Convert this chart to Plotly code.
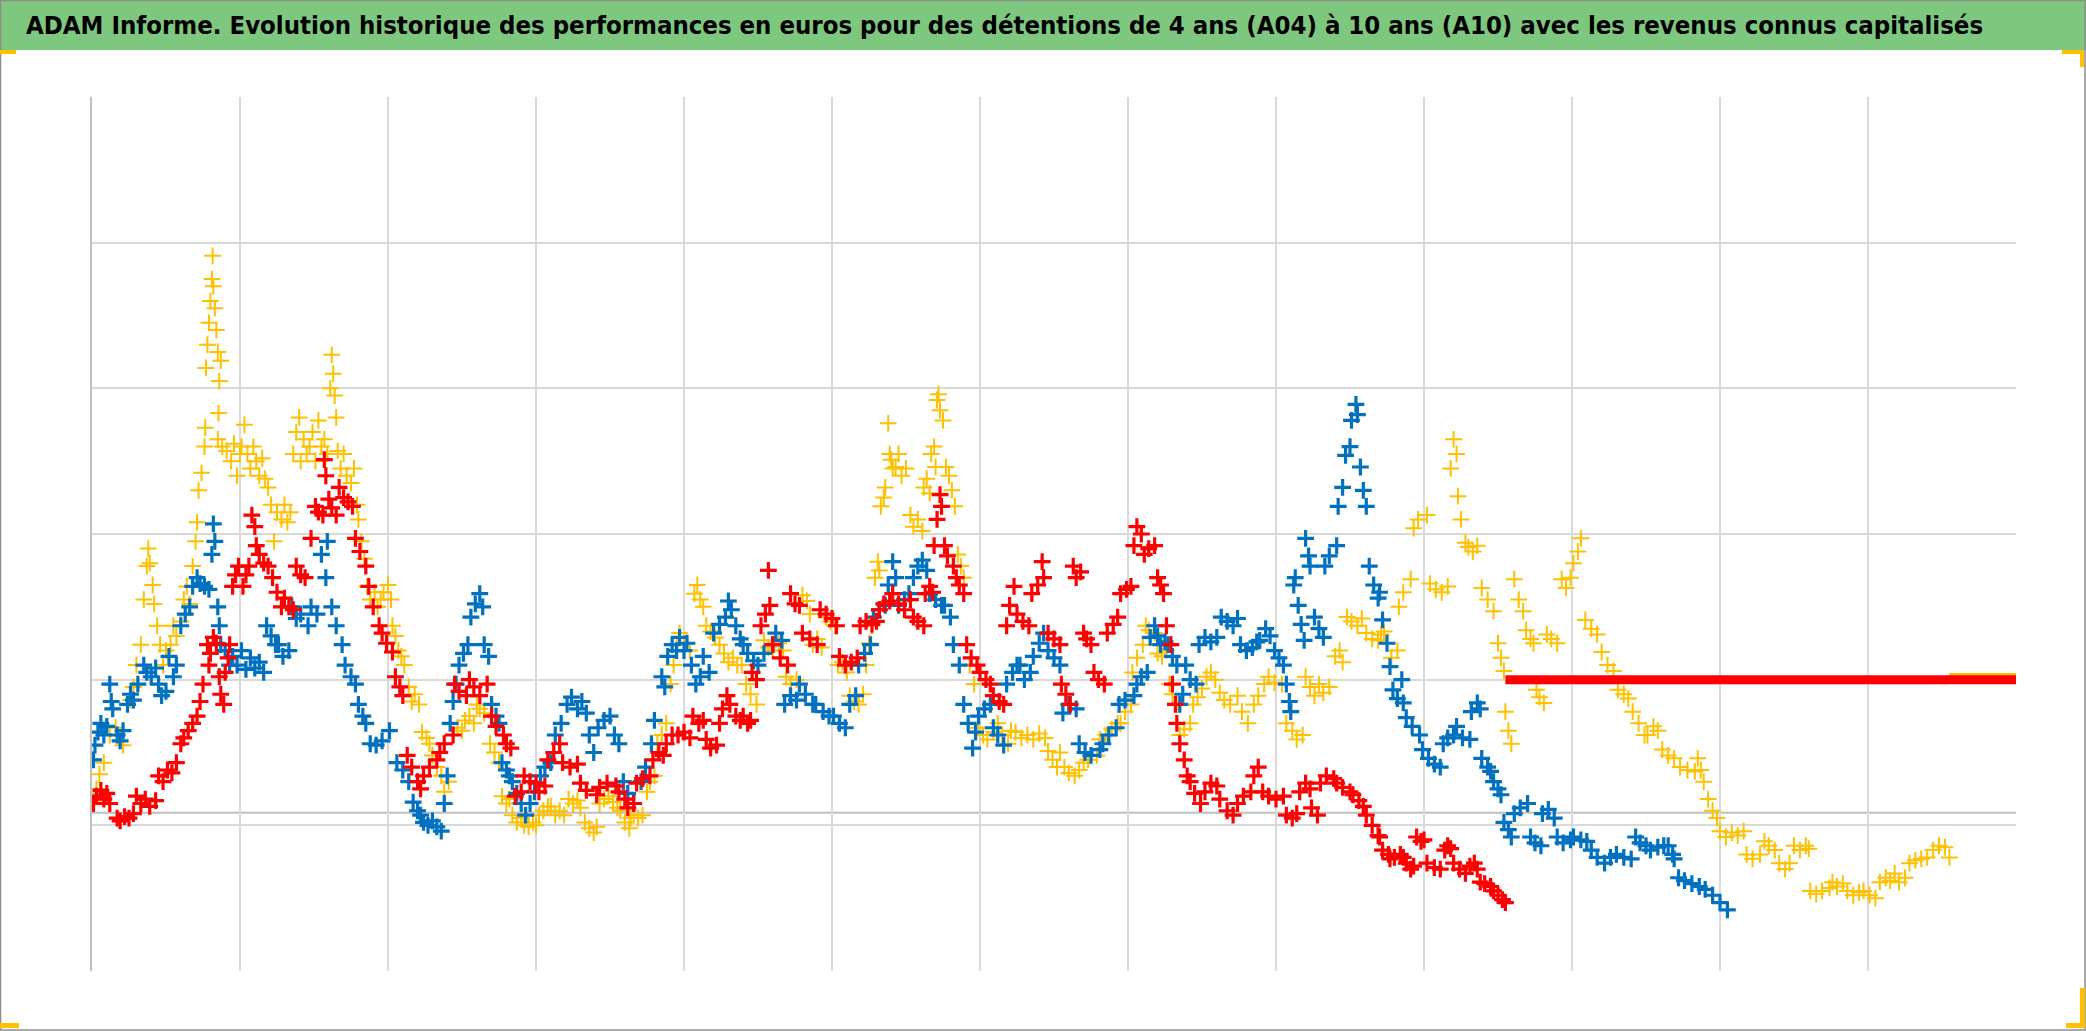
import plotly.graph_objects as go

TITLE = ("ADAM Informe. Evolution historique des performances en euros pour des "
         "détentions de 4 ans (A04) à 10 ans (A10) avec les revenus connus capitalisés")

# ---------------- data (x: time in grid units, y: performance in grid units) ----------
yellow_x = [0.01,0.03,0.05,0.08, 0.12,0.16,0.19,0.21, 0.26,0.28,0.30,0.33,
            0.35,0.37,0.38,0.39,0.41,0.42, 0.44,0.46,0.48,0.50, 0.53,0.55,0.57,
            0.60,0.62,0.64,0.66, 0.68,0.70,0.71, 0.72,0.74,0.76,0.765,
            0.77,0.78,0.79,0.80,0.81,0.815,0.82,0.83,0.84,0.85,0.86,0.855,0.87,
            0.85,0.88,0.91,0.94,0.96,0.98,1.00,
            1.01,1.03,1.05,1.07,1.09,1.11,1.13,1.15,1.17,1.19,
            1.21,1.23,1.25,1.28,1.30,1.32,1.34, 1.36,1.38,1.40,1.41,1.43,1.45,
            1.47,1.49,1.51,1.53,1.55,1.57,1.59, 1.61,1.62,1.63,1.64,1.65,
            1.66,1.68,1.70,1.72,1.75,1.77,1.79, 1.80,1.82,1.84,
            1.86,1.88,1.91,1.93,1.95,1.97,2.00,2.02, 2.03,2.05,2.07,2.09,
            2.11,2.14,2.16,2.18,2.21,
            2.23,2.26,2.28, 2.30,2.33,2.36, 2.38,2.41, 2.44,2.47,2.50, 2.52,2.55,2.58,
            2.60,2.62,2.65, 2.69,2.72,2.75, 2.77,2.80,2.82, 2.84,2.87,2.90,
            2.92,2.95,2.98,3.00, 3.02,3.05,3.08, 3.10,3.13,3.16,3.19,
            3.22,3.25,3.28,3.30, 3.33,3.36,3.39,3.41, 3.43,3.46,3.49,3.52,3.55,
            3.57,3.60,3.63,3.64, 3.66,3.69,3.72, 3.75,3.77,3.80, 3.82,3.85,3.88,
            3.91,3.93,3.95, 3.97,4.00,4.04, 4.07,4.09,4.11,4.13, 4.15,4.18,4.21,
            4.24,4.27,4.30,4.33,4.36,
            4.39, 4.42,4.45,4.49, 4.54,4.57,4.60,4.64,4.67, 4.69,4.72,4.76,
            4.78,4.80,4.83,4.85, 4.87,4.90,4.93, 4.96,4.99,5.02, 5.04,5.07,5.10,
            5.12,5.15,5.18,5.21, 5.23,5.25,5.27, 5.29,5.31,5.32, 5.33,5.35,5.36,
            5.38,5.39,5.40,5.41, 5.43,5.45,5.47,5.50, 5.53,5.55,5.58,5.61,
            5.62,5.64,5.66, 5.67,5.69,5.70, 5.71,5.72,5.73,5.75, 5.77,5.79,5.81,5.83,
            5.85,5.87,5.89, 5.91,5.93,5.96, 5.99,6.02,6.05,6.09, 6.12,6.15,6.19,6.21,
            6.24,6.28,6.32,6.36,6.40,6.44, 6.46,6.49,6.52,
            6.54, 6.57,6.60,6.64,6.67, 6.70,6.73,6.79, 6.81,6.85,6.89,6.93,
            6.95,6.98,7.02, 7.03,7.06,7.10, 7.12,7.14,7.18, 7.20,7.23,7.26,
            7.28,7.30,7.33, 7.35,7.38,7.42, 7.44,7.47,7.50, 7.53,7.56,7.59,
            7.62,7.65,7.69, 7.74,7.77,7.81, 7.85,7.88, 7.92,7.95,7.99,8.04,
            8.07,8.11,8.14,8.18, 8.20,8.23,8.26, 8.29,8.32,8.36, 8.40,8.43,8.45,
            8.48,8.51,8.55,8.58, 8.61,8.65,8.69,
            8.71,8.73, 8.75,8.78,8.82, 8.83,8.86,8.91, 8.93,8.96,9.02,
            9.04,9.08,9.12,9.16, 9.18,9.20,9.22, 9.23,9.25,9.28, 9.30,9.33,9.36,
            9.39,9.43,9.47, 9.50,9.52,9.54, 9.55,9.57,9.59, 9.61,9.64,9.67,
            9.69,9.72,9.74, 9.76,9.78,9.81, 9.83,9.86,9.90, 9.93,9.96,9.99,
            10.01,10.04,10.06, 10.09,10.13,10.17, 10.20,10.24,10.28,
            10.31,10.35,10.38, 10.41,10.45,10.49, 10.51,10.55,10.58,
            10.61,10.65,10.69, 10.73,10.78,10.83,
            10.85,10.87,10.89, 10.92,10.95,10.98, 11.00,11.04,11.08,11.12,11.16,
            11.18,11.22,11.27, 11.30,11.33,11.37, 11.40,11.44,11.47,
            11.50,11.54,11.58,11.60, 11.61,11.65,11.69,11.74, 11.76,11.79,11.83,
            11.86,11.90,11.94, 11.97,12.01,12.05, 12.08,12.12,12.15,
            12.18,12.21,12.25, 12.28,12.32,12.36,12.40, 12.44,12.48,12.52,12.55]
yellow_y = [1.17,1.25,1.35,1.43, 1.62,1.67,1.58,1.55, 1.86,1.95,2.10,2.24,
            2.55,2.78,2.90,2.80,2.65,2.52, 2.37,2.24,2.10,2.20, 2.24,2.37,2.30,
            2.40,2.55,2.64,2.52, 2.78,2.95,3.08, 3.30,3.42,3.60,3.73,
            4.14,4.30,4.45,4.60,4.75,4.91,4.70,4.55,4.40,4.25,4.05,3.83,4.19,
            3.65,3.60,3.57,3.50,3.62,3.40,3.55,
            3.60,3.75,3.55,3.45,3.60,3.50,3.40,3.52,3.38,3.32,
            3.20,2.95,3.15,3.10,3.20,3.08,3.15, 3.55,3.70,3.80,3.50,3.65,3.55,
            3.60,3.70,3.50,3.78,3.60,3.65,3.55, 4.00,4.23,4.10,3.95,3.80,
            3.57,3.45,3.55,3.40,3.35,3.45,3.20, 3.10,2.95,2.83,
            2.64,2.55,2.60,2.50,2.55,2.60,2.65,2.55, 2.37,2.30,2.20,2.16,
            2.10,1.95,1.85,1.90,1.83,
            1.64,1.60,1.56, 1.48,1.40,1.34, 1.23,1.30, 1.62,1.67,1.65, 1.72,1.75,1.70,
            1.83,1.80,1.77, 1.56,1.50,1.43, 1.20,1.15,1.18, 1.07,1.02,1.05,
            1.00,0.99,1.02,1.00, 1.07,1.10,1.13, 1.13,1.07,1.10,1.07,
            1.18,1.15,1.17,1.12, 1.02,0.98,0.95,0.99, 1.15,1.18,1.20,1.16,1.12,
            1.10,1.02,0.98,1.05, 1.07,1.05,1.07, 1.23,1.30,1.34, 1.56,1.62,1.70,
            1.97,2.10,2.24, 2.32,2.25,2.20, 2.59,2.65,2.55,2.50, 2.37,2.33,2.29,
            2.24,2.18,2.12,2.15,2.10,
            2.10, 1.97,1.90,1.83, 2.27,2.22,2.20,2.25,2.20, 2.02,1.97,2.00,
            2.51,2.58,2.54,2.45, 2.24,2.28,2.22, 2.43,2.40,2.37, 2.10,2.12,2.05,
            1.89,1.85,1.83,1.90, 2.10,2.25,2.37, 2.70,2.81,2.75, 3.19,3.25,3.32,
            3.76,3.55,3.51,3.45, 3.46,3.55,3.40,3.45, 3.13,3.05,3.10,3.02,
            3.32,3.38,3.28, 3.55,3.60,3.46, 3.92,3.96,3.85,3.78, 3.46,3.40,3.30,3.19,
            2.86,2.78,2.70, 2.24,2.10,1.97, 1.67,1.62,1.59,1.64, 1.70,1.62,1.56,1.65,
            1.64,1.60,1.62,1.59,1.63,1.60, 1.51,1.45,1.40,
            1.50, 1.40,1.36,1.34,1.38, 1.43,1.45,1.48, 1.59,1.62,1.66,1.70,
            1.70,1.78,1.83, 2.05,2.15,2.24, 2.37,2.34,2.32, 2.18,2.16,2.20,
            1.97,1.90,1.83, 1.62,1.66,1.70, 1.83,1.88,1.94, 2.02,2.05,2.00,
            1.91,1.86,1.83, 1.89,1.78,1.70, 1.83,1.89, 1.97,2.02,1.98,1.97,
            1.70,1.65,1.59,1.62, 2.02,1.95,1.89, 1.97,1.91,1.95, 2.16,2.20,2.12,
            2.43,2.40,2.37,2.42, 2.32,2.28,2.27,
            2.31,2.33, 2.25,2.15,2.20, 2.50,2.60,2.69, 3.04,3.10,3.13,
            2.66,2.62,2.60,2.64, 3.45,3.65,3.55, 3.26,3.10,2.94, 2.91,2.88,2.92,
            2.63,2.55,2.47, 2.25,2.15,2.06, 1.78,1.65,1.56, 2.69,2.55,2.47,
            2.34,2.28,2.25, 1.93,1.88,1.84, 2.31,2.28,2.25, 2.69,2.63,2.70,
            2.80,2.88,2.97, 2.41,2.35,2.31, 2.19,2.10,2.06,
            1.93,1.90,1.87, 1.78,1.70,1.62, 1.62,1.68,1.65,
            1.52,1.48,1.46, 1.40,1.38,1.37,
            1.46,1.38,1.30, 1.18,1.10,1.05, 0.96,0.92,0.95,0.93,0.96,
            0.80,0.77,0.80, 0.89,0.86,0.83, 0.74,0.70,0.74,
            0.86,0.83,0.86,0.84, 0.55,0.53,0.55,0.57, 0.61,0.58,0.60,
            0.55,0.52,0.54, 0.55,0.52,0.50, 0.61,0.64,0.62,
            0.67,0.61,0.64, 0.74,0.76,0.77,0.78, 0.83,0.86,0.85,0.78]

blue_x = [0.01,0.02, 0.04,0.06,0.08,0.10, 0.12,0.13,0.14, 0.17,0.19,0.21,
          0.24,0.26,0.28,0.31, 0.35,0.37,0.40,0.43, 0.45,0.47,0.50, 0.52,0.55,0.57,
          0.60,0.63,0.66, 0.68,0.71,0.73, 0.76,0.79, 0.81,0.82,0.83, 0.85,0.86,
          0.87,0.90,0.93, 0.95,0.98,1.01,1.04,1.07,1.10,1.13,1.16,
          1.18,1.21,1.24, 1.26,1.29,1.33, 1.35,1.38,1.41,1.46, 1.48,1.52,
          1.55,1.58,1.59, 1.62,1.65,1.69, 1.71,1.75,1.78, 1.80,1.83,1.85,
          1.88,1.92,1.96,2.01, 2.06,2.10,2.14, 2.17,2.20,2.22,
          2.24,2.27,2.30,2.33,2.36, 2.38,2.40, 2.42,2.44,2.46, 2.48,2.51,2.54,
          2.56,2.59,2.62,2.64, 2.65,2.68, 2.70,2.73,2.75, 2.77,2.80,2.82,
          2.84,2.87,2.90, 2.93,2.96,2.99, 3.03,3.06,3.10, 3.13,3.17,
          3.21,3.24,3.28,3.31,3.34, 3.36,3.39, 3.42,3.46,3.50, 3.53,3.56,
          3.59,3.62,3.66, 3.71,3.74,3.78, 3.80, 3.85,3.87, 3.89,3.92,3.95,
          3.97,4.00,4.02, 4.05,4.08,4.11, 4.13,4.17, 4.20,4.24,4.28, 4.30,4.32,
          4.35,4.38,
          4.40,4.43,4.47, 4.50,4.54,4.60, 4.62,4.66, 4.68,4.72,4.76, 4.78,4.82,4.87,
          4.89,4.94,4.98, 5.01,5.05,5.09, 5.12,5.16, 5.18,5.22,5.26, 5.28,5.32,5.36,
          5.38,5.41,5.43, 5.45,5.49,5.52, 5.55,5.58,5.61,5.64, 5.66,5.70,5.74,
          5.76,5.80, 5.82,5.86, 5.89,5.92,5.95,5.97, 5.99,6.03,6.07, 6.09,6.12,6.16,
          6.18,6.22,6.25, 6.27,6.30,6.34, 6.36,6.40,6.43, 6.46,6.50,6.54,
          6.56,6.60,6.65, 6.67,6.71,6.75,6.81, 6.83,6.87,6.92, 6.94,6.98,7.04,
          7.06,7.09,7.13, 7.15,7.18,7.20, 7.22,7.25, 7.27,7.30,7.33, 7.35,7.37,
          7.39,7.42,7.46, 7.48,7.52,7.56,7.60, 7.63,7.67,7.71,7.74,
          7.76,7.80,7.84,7.87, 7.89,7.93,7.96, 7.99,8.02,8.05, 8.07,8.09,8.10,
          8.12,8.13, 8.15,8.17,8.19, 8.20,8.22,8.23, 8.26,8.29,8.32,
          8.33,8.36,8.41, 8.42,8.45, 8.47,8.50, 8.51,8.54,8.55, 8.57,8.59,8.61,
          8.63,8.66,8.69,
          8.70, 8.72,8.75,8.77, 8.79,8.82,8.85,8.86, 8.88,8.92,8.97,
          8.99,9.03,9.07,9.11, 9.13,9.16,9.20, 9.22,9.26,9.31, 9.32,9.36,9.38,
          9.39,9.43,9.45, 9.47,9.50,9.52, 9.54,9.57,9.59, 9.61,9.65,9.70,
          9.72,9.75,9.79, 9.80,9.84,9.88, 9.90,9.94,9.99, 10.01,10.06,10.10,
          10.13,10.17,10.22,10.26, 10.30,10.35,10.40, 10.43,10.46,10.50,
          10.53,10.58,10.62, 10.65,10.68,10.69, 10.72,10.76,10.81,10.86,
          10.90,10.95,11.00,11.05]
blue_y = [1.45,1.55, 1.64,1.70,1.62,1.68, 1.97,1.85,1.80, 1.62,1.58,1.65,
          1.83,1.90,1.86,1.97, 2.10,2.05,2.02,2.08, 1.97,1.89,1.92, 2.16,2.02,2.10,
          2.37,2.45,2.50, 2.64,2.70,2.66, 2.64,2.62, 2.86,3.07,2.95, 2.50,2.37,
          2.24,2.20,2.10, 2.16,2.10,2.20,2.07,2.15,2.08,2.12,2.05,
          2.37,2.30,2.24, 2.24,2.16,2.20, 2.50,2.42,2.45,2.37, 2.50,2.45,
          2.86,2.70,2.95, 2.50,2.37,2.24, 2.10,2.02,1.97, 1.83,1.75,1.70,
          1.56,1.55,1.58,1.65, 1.43,1.38,1.30, 1.16,1.10,1.07,
          1.02,1.00,1.03,0.99,0.96, 1.15,1.34, 1.70,1.85,1.97, 2.10,2.18,2.24,
          2.43,2.52,2.59,2.50, 2.24,2.16, 1.83,1.75,1.70, 1.43,1.38,1.34,
          1.30,1.22,1.15, 1.07,1.15,1.23, 1.34,1.40,1.43, 1.62,1.70,
          1.83,1.88,1.80,1.85,1.77, 1.62,1.50, 1.67,1.72,1.75, 1.62,1.56,
          1.30,1.22,1.15, 1.30,1.40,1.56, 1.72, 2.02,1.95, 2.16,2.24,2.20,
          2.29,2.20,2.25, 2.10,1.97,2.02, 2.16,2.05, 2.32,2.38,2.43, 2.54,2.48,
          2.37,2.28,
          2.24,2.18,2.13, 2.10,2.18,2.24, 2.32,2.27, 1.83,1.89,1.86, 1.97,1.90,1.83,
          1.83,1.78,1.75, 1.75,1.70,1.67, 1.83,1.89, 2.10,2.18,2.24, 2.43,2.48,2.51,
          2.65,2.81,2.70, 2.51,2.55,2.59, 2.70,2.78,2.82,2.75, 2.59,2.55,2.51,
          2.51,2.43, 2.24,2.10, 1.83,1.70,1.53,1.64, 1.75,1.80,1.83, 1.67,1.62,1.55,
          1.97,2.05,2.10, 2.10,2.00,2.05, 2.16,2.25,2.32, 2.20,2.15,2.10,
          1.77,1.83,1.80, 1.56,1.50,1.48,1.52, 1.56,1.62,1.67, 1.83,1.86,1.89,
          1.97,2.02,2.05, 2.29,2.37,2.30, 2.24,2.26, 2.24,2.16,2.10, 1.83,1.90,
          2.10,2.00,1.97, 2.24,2.29,2.26,2.29, 2.43,2.40,2.37,2.42,
          2.24,2.20,2.22,2.26, 2.27,2.35,2.30, 2.20,2.15,2.10, 1.97,1.85,1.78,
          2.65,2.70, 2.51,2.38,2.27, 2.97,2.85,2.78, 2.43,2.35,2.29,
          2.78,2.85,2.92, 3.19,3.32, 3.54,3.60, 3.78,3.89,3.82, 3.46,3.30,3.19,
          2.78,2.65,2.56,
          2.60, 2.41,2.25,2.09, 1.93,1.87,2.00,1.84, 1.74,1.68,1.62,
          1.52,1.46,1.42,1.40, 1.56,1.60,1.62, 1.68,1.60,1.59, 1.78,1.84,1.80,
          1.46,1.40,1.37, 1.30,1.25,1.21, 1.02,0.97,0.92, 1.08,1.12,1.15,
          0.92,0.88,0.86, 1.08,1.11,1.05, 0.92,0.88,0.90, 0.92,0.90,0.89,
          0.83,0.78,0.74,0.78, 0.80,0.78,0.77, 0.92,0.88,0.86,
          0.83,0.85,0.86, 0.86,0.80,0.77, 0.64,0.62,0.60,0.58,
          0.56,0.52,0.47,0.42]

red_x = [0.01,0.03,0.06,0.08,0.10,0.12, 0.17,0.19,0.22,0.25,0.28,
         0.30,0.33,0.36,0.39,0.43, 0.45,0.48,0.51,0.54,0.57, 0.60,0.62,0.65,0.68,
         0.71,0.73,0.75, 0.78,0.79,0.80, 0.82,0.84, 0.86,0.87,0.89, 0.90,0.92,0.93,
         0.95,0.97,0.99, 1.02,1.04,1.06, 1.08,1.10,1.11, 1.13,1.16,1.19,
         1.22,1.25,1.28, 1.30,1.33,1.36, 1.38,1.41,1.44, 1.48, 1.51,1.53,1.56,
         1.57,1.58, 1.60,1.62,1.65, 1.67,1.70,1.73,1.76, 1.78,1.81,1.85,
         1.87,1.90,1.94, 1.96,1.99,2.03, 2.05,2.08,2.10, 2.13,2.16,2.20,
         2.22, 2.24,2.28,2.33, 2.35,2.38,2.44, 2.45,2.48,2.53, 2.55,2.58,2.62,2.67,
         2.70,2.73,2.78, 2.80,2.83, 2.86,2.90, 2.92,2.96,3.00, 3.02,3.06,
         3.08,3.12,3.16, 3.18,3.23,3.28, 3.30,3.34,3.41, 3.43,3.48,3.54,
         3.56,3.60, 3.62,3.66, 3.68,3.72,3.77, 3.79,3.83,3.86, 3.88,3.92,
         3.96,4.00,4.04, 4.06,4.10,4.13, 4.15,4.18,4.22, 4.24,4.26,4.29,
         4.31,4.35,4.38,
         4.40,4.43,4.45, 4.46,4.49, 4.52,4.55,4.57,4.58, 4.60,4.65,4.70,
         4.72,4.75,4.78, 4.80,4.85,4.90, 4.92,4.96,5.00,5.03, 5.05,5.09,5.13,5.17,
         5.19,5.23,5.27,5.30, 5.32,5.35,5.39, 5.41,5.45,5.49,5.53, 5.55,5.58,5.62,
         5.63,5.66,5.68, 5.69,5.71,5.73,5.74, 5.76,5.78,5.82, 5.84,5.86,5.89,
         5.91,5.94,5.98, 6.00,6.04,6.07, 6.09,6.13,6.16, 6.18,6.20,6.23,
         6.25,6.29,6.33, 6.35,6.39,6.43,6.42, 6.46,6.50,6.54,
         6.55,6.58,6.61, 6.63,6.65,6.68, 6.70,6.72,6.75, 6.77,6.80,6.84,
         6.86,6.90,6.93, 6.95,6.99,7.02, 7.04,7.06,7.09, 7.11,7.14,7.18,
         7.20,7.22,7.24, 7.26,7.29, 7.30,7.32,7.33, 7.35,7.38,7.40,
         7.42,7.45,7.49, 7.52,7.56,7.60, 7.62,7.67,7.71, 7.74,7.78,7.83,
         7.85,7.88, 7.91,7.95,8.00,8.05, 8.07,8.11,8.14, 8.16,8.20,8.23,
         8.24,8.28, 8.30,8.34,8.39, 8.41,8.45,8.50, 8.52,8.56,8.59,
         8.61,8.65,8.69,
         8.70,8.72,8.76,8.77, 8.80,8.84,8.86, 8.88,8.91,8.93, 8.95,8.98,9.00,
         9.02,9.07,9.11, 9.14,9.16,9.18, 9.20,9.24,9.28, 9.31,9.34,9.36,
         9.38,9.41,9.45, 9.47,9.50,9.53,9.55]
red_y = [1.15,1.20,1.24,1.18,1.22,1.15, 1.05,1.03,1.06,1.05,1.08,
         1.20,1.15,1.18,1.13,1.17, 1.34,1.30,1.38,1.36,1.43, 1.56,1.60,1.65,1.70,
         1.75,1.85,1.97, 2.24,2.10,2.18, 2.29,2.25, 2.02,1.90,1.83, 2.05,2.15,2.24,
         2.64,2.72,2.78, 2.64,2.72,2.78, 3.13,3.05,2.92, 2.86,2.80,2.78,
         2.70,2.60,2.50, 2.56,2.50,2.48, 2.78,2.72,2.70, 2.97, 3.19,3.15,3.13,
         3.51,3.40, 3.24,3.18,3.13, 3.32,3.25,3.22,3.19, 2.97,2.88,2.78,
         2.64,2.50,2.37, 2.32,2.25,2.19, 2.02,1.95,1.89, 1.48,1.40,1.30,
         1.25, 1.34,1.40,1.45, 1.50,1.56,1.62, 1.97,1.92,1.89, 2.00,1.95,1.89,1.97,
         1.75,1.68,1.62, 1.56,1.53, 1.20,1.23, 1.34,1.30,1.29, 1.23,1.27,
         1.45,1.50,1.56, 1.43,1.40,1.42, 1.29,1.24,1.21, 1.26,1.29,1.27,
         1.23,1.18, 1.12,1.15, 1.29,1.32,1.34, 1.45,1.50,1.48, 1.56,1.62,
         1.62,1.64,1.60, 1.75,1.70,1.72, 1.59,1.53,1.55, 1.70,1.80,1.89,
         1.83,1.75,1.72,
         1.75,1.70,1.72, 2.05,2.00, 2.37,2.45,2.75,2.51, 2.24,2.15,2.10,
         2.59,2.52,2.51, 2.32,2.28,2.24, 2.48,2.45,2.42,2.37, 2.16,2.10,2.12,2.15,
         2.37,2.40,2.38,2.40, 2.48,2.52,2.54, 2.59,2.52,2.48,2.55, 2.43,2.40,2.37,
         2.59,2.64,2.60, 2.92,3.10,3.27,3.19, 2.92,2.85,2.78, 2.70,2.65,2.59,
         2.24,2.15,2.10, 2.05,2.00,1.97, 1.89,1.85,1.83, 2.37,2.51,2.64,
         2.45,2.40,2.37, 2.59,2.65,2.70,2.81, 2.32,2.28,2.24,
         1.97,1.90,1.83, 2.78,2.70,2.74, 2.32,2.28,2.24, 2.05,2.00,1.97,
         2.32,2.38,2.43, 2.59,2.62,2.64, 2.92,3.05,3.00, 2.86,2.90,2.92,
         2.70,2.65,2.59, 2.37,2.24, 1.97,1.83,1.70, 1.56,1.45,1.34,
         1.30,1.22,1.15, 1.23,1.29,1.27, 1.18,1.10,1.07, 1.15,1.20,1.23,
         1.34,1.40, 1.23,1.20,1.18,1.20, 1.07,1.05,1.08, 1.23,1.29,1.25,
         1.12,1.07, 1.29,1.34,1.32, 1.29,1.26,1.23, 1.21,1.17,1.13,
         1.07,1.00,0.93,
         0.92,0.83,0.80,0.77, 0.78,0.80,0.78, 0.74,0.70,0.72, 0.92,0.89,0.90,
         0.74,0.71,0.70, 0.83,0.86,0.84, 0.74,0.70,0.67, 0.72,0.74,0.70,
         0.61,0.60,0.58, 0.55,0.52,0.49,0.47]

# constant tails (values held flat after the last known point)
red_flat_x = [9.55, 13.0]
red_flat_y = [2.0, 2.0]
yellow_flat_x = [12.55, 13.0]
yellow_flat_y = [2.015, 2.015]

axis_cross_y = 1.087          # the darker horizontal axis line
x_grid = list(range(0, 13))   # vertical gridlines
y_grid = list(range(0, 7))    # horizontal gridlines

# ---------------- styling ----------------
W, H = 2086, 1031
ML, MR, MT, MB = 92, 70, 97, 60
PW, PH = W - ML - MR, H - MT - MB

def px(x):  # pixel -> paper x
    return (x - ML) / PW

def py(y):  # pixel (from top) -> paper y
    return (H - MB - y) / PH

BLUE, RED, YELLOW = "#0070C0", "#FF0000", "#FFC000"

fig = go.Figure()

fig.add_trace(go.Scatter(x=yellow_flat_x, y=yellow_flat_y, mode="lines",
                         line=dict(color=YELLOW, width=9), hoverinfo="skip",
                         showlegend=False))
fig.add_trace(go.Scatter(x=yellow_x, y=yellow_y, mode="markers", name="A10",
                         marker=dict(symbol="cross-thin", size=12,
                                     line=dict(color=YELLOW, width=2))))
fig.add_trace(go.Scatter(x=blue_x, y=blue_y, mode="markers", name="A07",
                         marker=dict(symbol="cross-thin", size=12,
                                     line=dict(color=BLUE, width=3.2))))
fig.add_trace(go.Scatter(x=red_x, y=red_y, mode="markers", name="A04",
                         marker=dict(symbol="cross-thin", size=12,
                                     line=dict(color=RED, width=3.2))))
fig.add_trace(go.Scatter(x=red_flat_x, y=red_flat_y, mode="lines",
                         line=dict(color=RED, width=9), hoverinfo="skip",
                         showlegend=False))

shapes = []
# green title band
shapes.append(dict(type="rect", xref="paper", yref="paper", layer="below",
                   x0=px(0), x1=px(W), y0=py(50), y1=py(0),
                   fillcolor="#7DC87E", line=dict(width=0)))
# darker axis line
shapes.append(dict(type="line", xref="x", yref="y", layer="below",
                   x0=0, x1=13, y0=axis_cross_y, y1=axis_cross_y,
                   line=dict(color="#BFBFBF", width=2)))
# outer frame
shapes.append(dict(type="rect", xref="paper", yref="paper",
                   x0=px(0.5), x1=px(W - 1), y0=py(H - 1), y1=py(0.5),
                   line=dict(color="#8C8C8C", width=1.5)))
# yellow selection handles
for (a, b, c, d) in [(0, 50, 16, 54), (2062, 50, 2083, 54), (2080, 50, 2084, 67),
                     (0, 1023, 19, 1028), (2080, 988, 2085, 1028), (2066, 1023, 2085, 1028)]:
    shapes.append(dict(type="rect", xref="paper", yref="paper",
                       x0=px(a), x1=px(c), y0=py(d), y1=py(b),
                       fillcolor="#FFC000", line=dict(width=0)))

fig.update_layout(
    width=W, height=H,
    margin=dict(l=ML, r=MR, t=MT, b=MB),
    paper_bgcolor="white", plot_bgcolor="white",
    showlegend=False,
    shapes=shapes,
    annotations=[dict(text="<b>" + TITLE + "</b>", xref="paper", yref="paper",
                      x=px(24), y=py(25), xanchor="left", yanchor="middle",
                      showarrow=False,
                      font=dict(family="Liberation Sans Narrow, Arial Narrow, DejaVu Sans Condensed, sans-serif",
                                size=25.5, color="black"))],
    xaxis=dict(range=[0, 13], tickvals=x_grid, showticklabels=False, ticks="",
               showgrid=True, gridcolor="#D9D9D9", gridwidth=2, zeroline=False,
               showline=False),
    yaxis=dict(range=[0, 6], tickvals=y_grid, showticklabels=False, ticks="",
               showgrid=True, gridcolor="#D9D9D9", gridwidth=2, zeroline=False,
               showline=True, linecolor="#BFBFBF", linewidth=2),
)

fig.write_html("out.html",
               config={"displayModeBar": False},
               post_script="document.body.style.margin='0';"
                           "document.body.style.overflow='hidden';")
